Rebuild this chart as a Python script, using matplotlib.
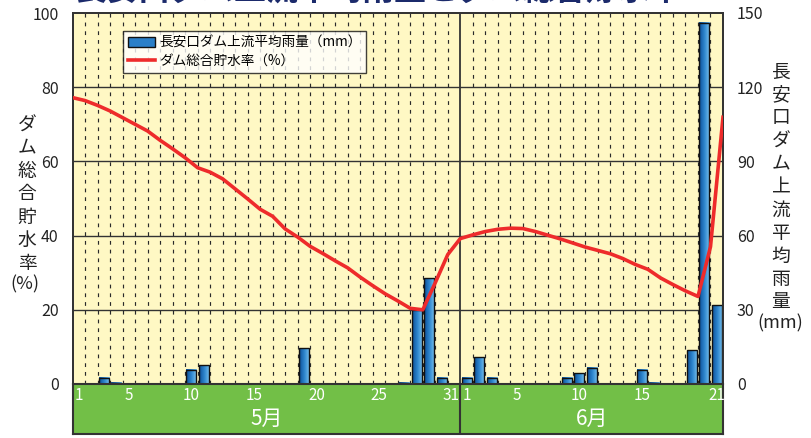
import numpy as np
import matplotlib
matplotlib.use("Agg")
import matplotlib.pyplot as plt
from matplotlib.colors import LinearSegmentedColormap
from matplotlib.patches import Patch, Rectangle
from matplotlib.lines import Line2D

plt.rcParams['font.family'] = ['Noto Sans CJK JP', 'DejaVu Sans']

# ---------------- data ----------------
may_days = list(range(1, 32))
june_days = list(range(1, 22))
may_rain = [0, 0, 2.5, 0.6, 0, 0, 0, 0, 0, 5.7, 7.5, 0, 0, 0, 0, 0, 0, 0, 14.5, 0,
            0, 0, 0, 0, 0, 0, 0.5, 30.0, 42.8, 2.6, 0]
june_rain = [2.6, 10.8, 2.6, 0, 0, 0, 0, 0, 2.5, 4.3, 6.6, 0, 0, 0, 5.8, 0.5, 0, 0,
             13.6, 146.0, 31.8]
# storage rate (%) at each day boundary (start of May 1 ... end of June 21)
storage = [77.2, 76.4, 75.1, 73.6, 71.8, 70.0, 68.2, 65.7, 63.4, 61.0, 58.3, 57.1,
           55.3, 52.6, 49.9, 47.1, 45.2, 41.8, 39.6, 37.1, 35.2, 33.2, 31.3, 28.8,
           26.5, 24.3, 22.4, 20.4, 20.0, 27.3, 34.9, 39.2, 40.2, 41.1, 41.7, 42.0,
           41.9, 41.1, 40.1, 39.1, 38.0, 36.9, 36.0, 35.1, 33.8, 32.2, 30.9, 28.6,
           26.8, 25.1, 23.6, 37.0, 71.9]
may_ticks = [1, 5, 10, 15, 20, 25, 31]
june_ticks = [1, 5, 10, 15, 21]
months = ['5月', '6月']
storage_ticks = [0, 20, 40, 60, 80, 100]
rain_ticks = [0, 30, 60, 90, 120, 150]
legend_rain = '長安口ダム上流平均雨量（mm）'
legend_storage = 'ダム総合貯水率（%）'
left_label = 'ダム総合貯水率'
right_label = '長安口ダム上流平均雨量'
title = '長安口ダム上流平均雨量とダム総合貯水率'

# ---------------- figure ----------------
W, H = 811, 438
fig = plt.figure(figsize=(W / 100, H / 100), dpi=100)
fig.patch.set_facecolor('white')

L, R, T, B = 72.5, 723, 13, 384
ax = fig.add_axes([L / W, 1 - B / H, (R - L) / W, (B - T) / H])  # rain axis (host)
ax.set_facecolor('#FFF8C4')

n_may = len(may_days)
n_all = n_may + len(june_days)
rain = may_rain + june_rain
xpos = np.arange(1, n_all + 1)

ax.set_xlim(0.5, n_all + 0.5)
ax.set_ylim(0, 150)

# grid
for v in rain_ticks[1:-1]:
    ax.axhline(v, color='#333333', lw=1.0, zorder=1)
for k in range(1, n_all):
    xb = k + 0.5
    if k == n_may:
        ax.axvline(xb, color='#333333', lw=1.3, zorder=1)
    else:
        ax.axvline(xb, color='#2a2a2a', lw=0.85, ls=(0, (3.2, 4.2)), zorder=1)

# gradient bars
cmap = LinearSegmentedColormap.from_list('b', ['#0B4E96', '#2E86CF', '#7CC3EF'])
grad = np.linspace(0, 1, 64).reshape(1, -1)
bw = 0.8
for x, h in zip(xpos, rain):
    if h <= 0:
        continue
    ax.imshow(grad, extent=(x - bw / 2, x + bw / 2, 0, h), aspect='auto',
              cmap=cmap, zorder=2, interpolation='bicubic')
    ax.add_patch(Rectangle((x - bw / 2, 0), bw, h, fill=False,
                           edgecolor='#111111', lw=1.0, zorder=3))
ax.set_xlim(0.5, n_all + 0.5)
ax.set_ylim(0, 150)
ax.set_aspect('auto')

# storage line on twin axis
ax2 = ax.twinx()
ax2.set_ylim(0, 100)
xs = np.arange(len(storage)) + 0.5
ax2.plot(xs, storage, color='#EE2B2B', lw=2.6, zorder=5, solid_joinstyle='round')
ax2.set_xlim(0.5, n_all + 0.5)

# ticks: storage on left, rain on right
ax2.yaxis.tick_left()
ax2.set_yticks(storage_ticks)
ax2.set_yticklabels([str(v) for v in storage_ticks], fontsize=11.5, color='#222222')
ax.yaxis.tick_right()
ax.set_yticks(rain_ticks)
ax.set_yticklabels([str(v) for v in rain_ticks], fontsize=11.5, color='#222222')
ax.tick_params(axis='y', length=0, pad=10)
ax2.tick_params(axis='y', length=0, pad=10)
ax.set_xticks([])
ax2.set_xticks([])
for a in (ax, ax2):
    for s in a.spines.values():
        s.set_color('#333333')
        s.set_linewidth(1.3)

# bottom green band
bb = 434
axb = fig.add_axes([L / W, 1 - bb / H, (R - L) / W, (bb - B) / H])
axb.set_facecolor('#72BF47')
axb.set_xlim(0.5, n_all + 0.5)
axb.set_ylim(0, 1)
axb.set_xticks([])
axb.set_yticks([])
for s in axb.spines.values():
    s.set_color('#333333')
    s.set_linewidth(1.5)
axb.axvline(n_may + 0.5, color='#333333', lw=1.5)
for d in may_ticks:
    xd = d - 0.25 if d == may_ticks[-1] else d
    axb.text(xd, 0.77, str(d), ha='center', va='center', color='white', fontsize=11)
for d in june_ticks:
    axb.text(n_may + d, 0.77, str(d), ha='center', va='center', color='white', fontsize=11)
axb.text((n_may + 1) / 2, 0.3, months[0], ha='center', va='center', color='white', fontsize=15)
axb.text(n_may + (len(june_days) + 1) / 2, 0.3, months[1], ha='center', va='center',
         color='white', fontsize=15)

# vertical axis labels (stacked characters)
for i, ch in enumerate(left_label):
    fig.text(27 / W, 1 - (125 + i * 23) / H, ch, ha='center', va='center',
             fontsize=13.5, color='#222222')
fig.text(25 / W, 1 - 284 / H, '(%)', ha='center', va='center', fontsize=13, color='#222222')
for i, ch in enumerate(right_label):
    fig.text(781 / W, 1 - (72 + i * 23) / H, ch, ha='center', va='center',
             fontsize=13.5, color='#222222')
fig.text(780 / W, 1 - 323 / H, '(mm)', ha='center', va='center', fontsize=13, color='#222222')

# legend
handles = [Patch(facecolor='#2A7FC8', edgecolor='#111111', lw=1.0),
           Line2D([0], [0], color='#EE2B2B', lw=2.6)]
leg = fig.legend(handles, [legend_rain, legend_storage], loc='upper left',
                 bbox_to_anchor=(123 / W, 1 - 31 / H), frameon=True, fancybox=False,
                 fontsize=9.8, handlelength=2.0, handleheight=0.8, borderpad=0.35,
                 labelspacing=0.3, handletextpad=0.3, borderaxespad=0)
leg.get_frame().set_edgecolor('#111111')
leg.get_frame().set_linewidth(1.0)
leg.get_frame().set_facecolor('white')

# title, partly above the top edge as in the source image
fig.text(378 / W, 1.0, title, ha='center', va='baseline', fontsize=23,
         fontweight='bold', color='#1B2A6B')

fig.savefig('out.png', dpi=100, facecolor='white')
